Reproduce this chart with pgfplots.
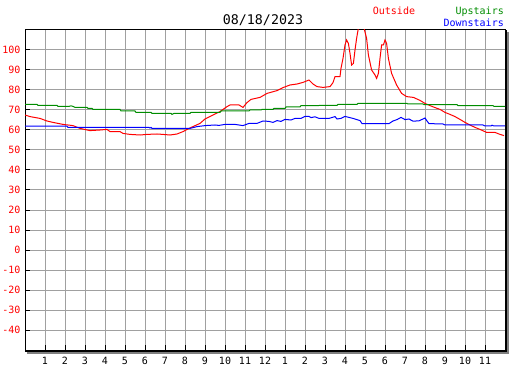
\documentclass[border=0pt]{standalone}
\usepackage{pgfplots}
\pgfplotsset{compat=1.18}
\usepackage{pgfplotstable}
\usepackage{fontspec}
\setmainfont{DejaVu Sans Mono}
\definecolor{gridgray}{RGB}{160,160,160}
\definecolor{shadowgray}{RGB}{128,128,128}
\definecolor{upgreen}{RGB}{0,140,0}
\definecolor{dnblue}{RGB}{0,0,255}
\definecolor{outred}{RGB}{255,0,0}

\pgfplotstableread{
h v
0 67.5
0.25 66.7
0.75 65.8
1.1 64.5
1.4 63.8
1.9 62.8
2.4 62.2
2.75 60.8
3.25 59.7
3.75 60.0
4.1 60.3
4.25 59.2
4.75 59.2
4.9 58.3
5.25 57.8
5.75 57.5
6.1 57.8
6.6 58.0
6.9 57.8
7.25 57.5
7.6 58.0
7.9 59.2
8.2 60.8
8.75 63.3
9.0 65.5
9.4 67.5
9.75 69.2
10.1 71.7
10.25 72.5
10.7 72.5
10.9 71.3
11.1 73.7
11.3 75.3
11.75 76.3
12.1 78.3
12.6 79.7
12.9 81.2
13.25 82.5
13.6 83.0
13.9 83.8
14.2 85.0
14.4 83.0
14.6 81.7
14.9 81.3
15.25 81.7
15.4 83.7
15.5 86.7
15.75 86.7
15.8 90.8
15.9 95.8
16.0 102.5
16.08 105.0
16.17 103.3
16.25 98.3
16.33 92.5
16.42 93.3
16.5 100.0
16.58 105.8
16.67 111
16.95 111
17.08 105.8
17.17 97.5
17.33 90.0
17.5 87.5
17.58 85.8
17.67 88.3
17.75 95.8
17.83 102.5
17.92 102.5
18.0 105.0
18.08 103.3
18.17 95.8
18.33 88.3
18.58 82.5
18.83 78.3
19.08 76.7
19.42 76.3
19.75 74.8
20.0 73.3
20.25 72.2
20.5 71.2
20.75 70.3
21.0 68.8
21.25 67.8
21.5 66.7
21.75 65.3
22.0 63.8
22.25 62.5
22.5 61.3
22.75 60.3
23.08 58.8
23.5 58.8
23.75 57.8
23.95 57.2
}\outside

\pgfplotstableread{
h v
0 72.8
0.6 72.8
0.65 72.3
1.6 72.3
1.65 71.8
2.2 71.8
2.3 72.1
2.4 71.8
2.5 71.3
3.1 71.3
3.15 70.8
3.35 70.8
3.4 70.3
4.75 70.3
4.8 69.5
5.5 69.5
5.55 68.8
6.3 68.8
6.35 68.3
7.3 68.3
7.35 67.8
7.45 68.3
8.25 68.3
8.3 68.8
9.75 68.8
9.8 69.5
11.2 69.5
11.25 70.0
11.8 70.0
11.85 70.3
12.4 70.3
12.45 70.8
13.0 70.8
13.05 71.5
13.75 71.5
13.8 72.2
15.6 72.3
15.65 72.8
16.6 72.8
16.65 73.3
19.1 73.3
19.15 73.0
19.9 73.0
19.95 72.7
21.6 72.7
21.65 72.2
23.4 72.2
23.45 71.8
24 71.8
}\upstairs

\pgfplotstableread{
h v
0 61.9
2.1 61.9
2.15 61.3
6.2 61.3
6.25 61.0
6.3 61.3
6.35 60.8
8.25 60.8
8.6 61.7
9.0 62.2
9.5 62.5
9.7 62.3
10.0 62.8
10.5 62.8
10.9 62.2
11.2 63.3
11.6 63.3
11.9 64.5
12.2 64.3
12.4 63.8
12.6 64.7
12.8 64.3
13.0 65.3
13.3 65.0
13.5 65.8
13.8 65.8
14.0 66.8
14.2 66.8
14.3 66.2
14.5 66.6
14.7 65.8
15.2 65.8
15.5 66.7
15.6 65.5
15.8 65.8
16.0 66.8
16.2 66.3
16.4 65.8
16.75 64.7
16.85 63.2
18.2 63.2
18.4 64.5
18.6 65.2
18.8 66.3
19.0 65.2
19.2 65.5
19.4 64.4
19.7 64.6
19.9 65.5
20.0 66.0
20.1 64.5
20.2 63.2
20.9 63.0
21.0 62.5
22.9 62.5
23.0 62.0
23.3 62.0
23.35 62.4
23.45 62.0
24 62.0
}\downstairs

\begin{document}
\begin{tikzpicture}[x=1pt,y=1pt]
\useasboundingbox (0,0) rectangle (527,370);
\begin{axis}[
  at={(25pt,20pt)}, anchor=south west,
  scale only axis, width=480pt, height=320pt,
  xmin=0, xmax=24, ymin=-50, ymax=110,
  xtick={1,2,...,23},
  xticklabels={1,2,3,4,5,6,7,8,9,10,11,12,1,2,3,4,5,6,7,8,9,10,11},
  ytick={-40,-30,-20,-10,0,10,20,30,40,50,60,70,80,90,100},
  yticklabels={-40,-30,-20,-10,0,10,20,30,40,50,60,70,80,90,100},
  grid=major,
  major grid style={gridgray, line width=1pt},
  tick align=inside, tick pos=left, major tick length=5pt,
  tick style={black, line width=1pt},
  axis line style={black, line width=1pt},
  yticklabel style={text=outred, font=\fontsize{10}{10}\selectfont, xshift=-1pt},
  xticklabel style={text=black, font=\fontsize{10}{10}\selectfont, yshift=-4pt},
]
\addplot[outred, line width=1pt, mark=none] table[x=h, y=v] {\outside};
\addplot[upgreen, line width=1pt, mark=none] table[x=h, y=v] {\upstairs};
\addplot[dnblue, line width=1pt, mark=none] table[x=h, y=v] {\downstairs};
\end{axis}
% frame shadow
\draw[black, line width=1pt] (506,19) -- (506,340);
\draw[black, line width=1pt] (25,19) -- (506.5,19);
\draw[shadowgray, line width=2pt] (508,16) -- (508,338);
\draw[shadowgray, line width=2pt] (27,17) -- (509,17);
% title and legend
\node[font=\fontsize{13.3}{14}\selectfont, anchor=base, inner sep=0pt] at (263,345) {08/18/2023};
\node[font=\fontsize{10}{10}\selectfont, text=outred, anchor=base west, inner sep=0pt] at (372.7,355.5) {Outside};
\node[font=\fontsize{10}{10}\selectfont, text=upgreen, anchor=base east, inner sep=0pt] at (504,355.5) {Upstairs};
\node[font=\fontsize{10}{10}\selectfont, text=dnblue, anchor=base east, inner sep=0pt] at (504,343.5) {Downstairs};
\end{tikzpicture}
\end{document}
